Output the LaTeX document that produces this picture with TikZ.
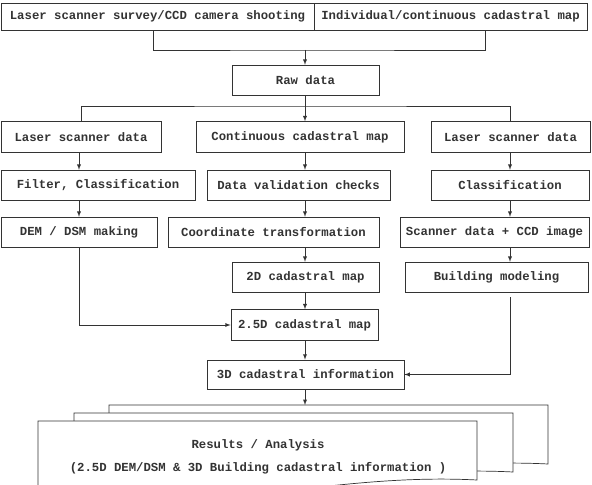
\documentclass[tikz,border=0pt]{standalone}
\usepackage{fontspec}
\setmonofont{Liberation Mono}
\usepackage{tikz}
\usetikzlibrary{calc}
\newcommand{\bx}{\fontsize{10.5}{12}\ttfamily\bfseries}
\tikzset{
  box/.style={draw, fill=white, inner sep=0pt, minimum height=0.92cm, font=\bx},
  doc/.style={draw, fill=white},
  >=latex
}

\begin{document}
\begin{tikzpicture}[x=0.03cm, y=-0.03cm, color=black!80, line width=0.6pt]
    \useasboundingbox (0,0) rectangle (592,485);
    \node[box, minimum width=9.39cm, minimum height=0.81cm] (TL) at (157.5,16.5) {Laser scanner survey/CCD camera shooting};
    \node[box, minimum width=8.19cm, minimum height=0.81cm] (TR) at (450.5,16.5) {Individual/continuous cadastral map};
    \node[box, minimum width=4.41cm] (RD) at (305.5,80.5) {Raw data};
    \node[box, minimum width=4.80cm] (L1) at (81,137) {Laser scanner data};
    \node[box, minimum width=6.24cm] (C1) at (300,137) {Continuous cadastral map};
    \node[box, minimum width=4.77cm] (R1) at (510.5,137) {Laser scanner data};
    \node[box, minimum width=5.82cm] (L2) at (98,185.5) {Filter, Classification};
    \node[box, minimum width=5.49cm] (C2) at (298.5,185.5) {Data validation checks};
    \node[box, minimum width=4.74cm] (R2) at (510,185.5) {Classification};
    \node[box, minimum width=4.68cm] (L3) at (79,232.5) {DEM / DSM making};
    \node[box, minimum width=6.33cm] (C3) at (273.5,232.5) {Coordinate transformation};
    \node[box, minimum width=5.67cm] (R3) at (494.5,232.5) {Scanner data + CCD image};
    \node[box, minimum width=4.41cm] (C4) at (305.5,277.5) {2D cadastral map};
    \node[box, minimum width=5.49cm] (R4) at (496.5,277.5) {Building modeling};
    \node[box, minimum width=4.41cm] (C5) at (304.5,325) {2.5D cadastral map};
    \node[box, minimum width=5.91cm, minimum height=0.87cm] (C6) at (305.5,374.5) {3D cadastral information};
    \coordinate (M) at (305,50);
    \coordinate (B) at (305,106);
    \coordinate (D) at (305,405);
    \draw ($(TL.south)+(-4.5,0)$) |- (M) -| ($(TR.south)+(34.5,0)$);
    \draw[->] (M) -- (RD.north -| M);
    \draw (RD.south -| M) -- (B);
    \draw (L1.north) |- (B) -| (R1.north);
    \draw[->] (B) -- (C1.north -| B);
    \draw[->] (L1.south -| L3) -- (L2.north -| L3);
    \draw[->] (L2.south -| L3) -- (L3.north);
    \draw[->] (L3.south) |- (C5.west);
    \foreach \a/\b in {C1/C2, C2/C3, C3/C4, C4/C5, C5/C6}
        \draw[->] (\a.south -| M) -- (\b.north -| M);
    \foreach \a/\b in {R1/R2, R2/R3, R3/R4}
        \draw[->] (\a.south -| R2) -- (\b.north -| R2);
    \draw[->, shorten <=0.12cm] (R4.south -| R2) |- (C6.east);
    \foreach \dx/\dy in {71/-16, 36/-8, 0/0}
        \filldraw[doc, shift={(\dx,\dy)}] (38,421) -- (477,421) -- (477,480)
            .. controls (400,476) and (330,486) .. (258,494)
            .. controls (180,502) and (100,502) .. (38,496) -- cycle;
    \draw[->] (C6.south -| M) -- (D);
    \node[font=\bx, align=center] (RES) at (258,457) {Results / Analysis\\[0.28cm](2.5D DEM/DSM \& 3D Building cadastral information )};
\end{tikzpicture}
\end{document}
